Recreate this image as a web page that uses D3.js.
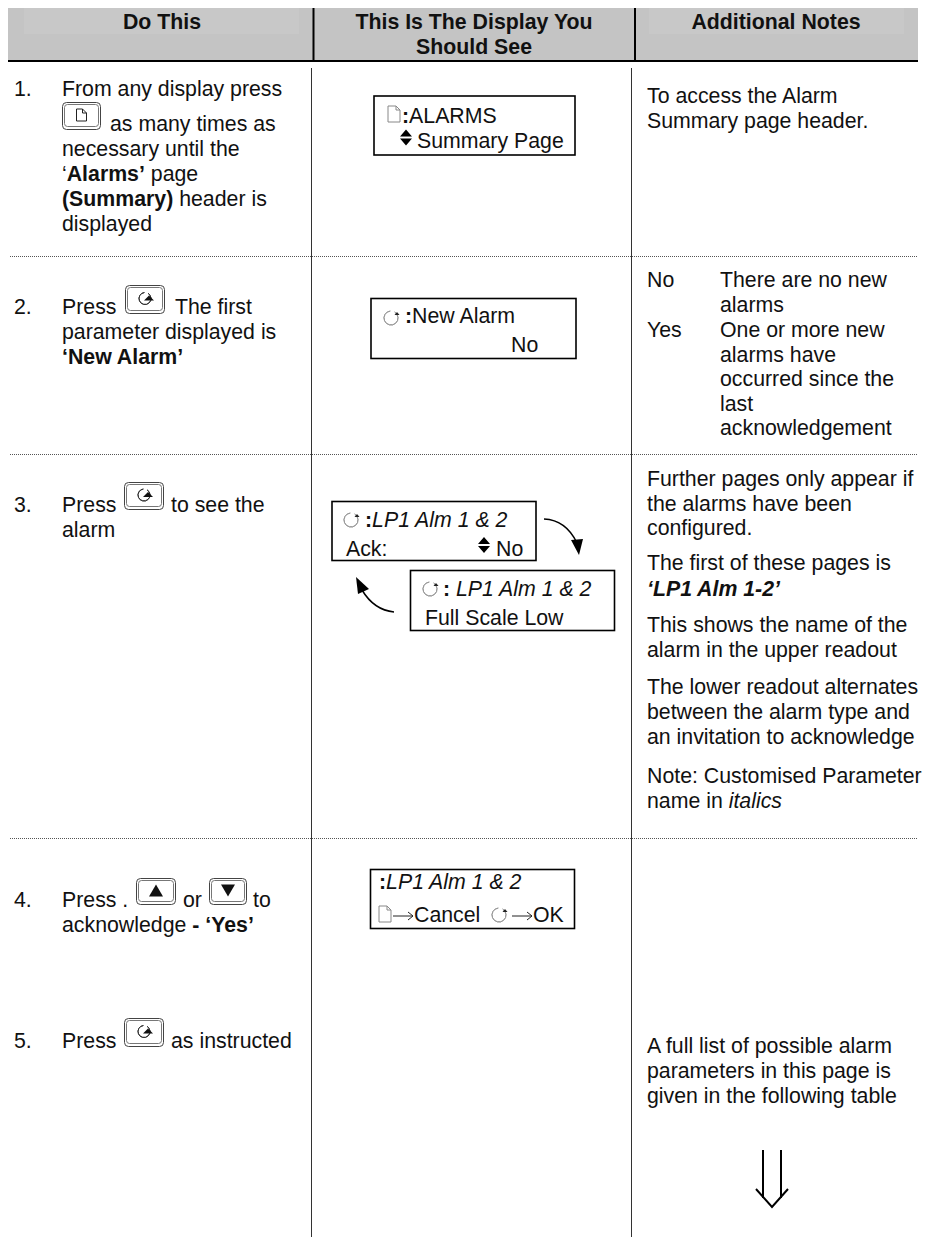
<!DOCTYPE html>
<html><head><meta charset="utf-8">
<script src="https://cdn.jsdelivr.net/npm/d3@7"></script>
<style>html,body{margin:0;padding:0;background:#fff}svg{display:block}
text{font-family:"Liberation Sans",Arial,sans-serif;font-size:21.3px;fill:#111;white-space:pre}</style></head>
<body><svg id="c" width="926" height="1237"></svg>
<script>
// ---- content ----
const headers = [["Do This"], ["This Is The Display You", "Should See"], ["Additional Notes"]];
const stepNumbers = ["1.", "2.", "3.", "4.", "5."];
const step1First = ["From any display press"];
const step1Rest = ["necessary until the", "‘**Alarms’** page", "**(Summary)** header is", "displayed"];
const step1After = "as many times as";
const step2 = ["Press", "parameter displayed is", "**‘New Alarm’**"];
const step2After = "The first";
const step3 = ["Press", "alarm"];
const step3After = "to see the";
const step4 = ["Press .", "acknowledge **- ‘Yes’**"];
const step4Or = "or";
const step4To = "to";
const step5 = ["Press"];
const step5After = "as instructed";
const note1 = ["To access the Alarm", "Summary page header."];
const note2Keys = ["No", "Yes"];
const note2No = ["There are no new", "alarms"];
const note2Yes = ["One or more new", "alarms have", "occurred since the", "last", "acknowledgement"];
const note3a = ["Further pages only appear if", "the alarms have been", "configured."];
const note3b = ["The first of these pages is", "**__‘LP1 Alm 1-2’__**"];
const note3c = ["This shows the name of the", "alarm in the upper readout"];
const note3d = ["The lower readout alternates", "between the alarm type and", "an invitation to acknowledge"];
const note3e = ["Note: Customised Parameter", "name in __italics__"];
const note5 = ["A full list of possible alarm", "parameters in this page is", "given in the following table"];

// ---- layout ----
const svg = d3.select("#c");
const colX = d3.scaleOrdinal(["num","step","note","noteVal"], [14, 62, 647, 720]);
const rules = d3.scaleOrdinal(["a","b"], [311.5, 631.5]);
const leading = 24.8;

function rich(sel, str) {
  let b = false, i = false;
  str.split(/(\*\*|__)/).forEach(p => {
    if (p === "**") { b = !b; return; }
    if (p === "__") { i = !i; return; }
    if (!p) return;
    sel.append("tspan").attr("font-weight", b ? "bold" : null).attr("font-style", i ? "italic" : null).text(p);
  });
}
const label = (x, y, s) => rich(svg.append("text").attr("x", x).attr("y", y), s);
function block(lines, x, y, lh = leading) { lines.forEach((l, k) => label(x, y + k * lh, l)); }

// header band
svg.append("rect").attr("x", 8).attr("y", 8).attr("width", 910).attr("height", 52).attr("fill", "#c4c4c4");
svg.append("rect").attr("x", 24).attr("y", 8).attr("width", 275).attr("height", 26).attr("fill", "#c8c8c8");
svg.append("rect").attr("x", 649).attr("y", 8).attr("width", 255).attr("height", 26).attr("fill", "#c8c8c8");
svg.append("line").attr("x1", 8).attr("x2", 918).attr("y1", 61).attr("y2", 61).attr("stroke", "#000").attr("stroke-width", 2);
[313.5, 635].forEach(x => svg.append("line").attr("x1", x).attr("x2", x).attr("y1", 8).attr("y2", 60).attr("stroke", "#000").attr("stroke-width", 2));
const hx = [162, 474, 776];
headers.forEach((h, i) => h.forEach((t, k) => svg.append("text").attr("x", hx[i]).attr("y", 28.5 + k * 25.5)
  .attr("text-anchor", "middle").attr("font-weight", "bold").text(t)));

// body rules
["a","b"].forEach(k => svg.append("line").attr("x1", rules(k)).attr("x2", rules(k)).attr("y1", 68).attr("y2", 1237).attr("stroke", "#333").attr("stroke-width", 1));
[256, 454, 838].forEach(y => svg.append("line").attr("x1", 10).attr("x2", 918).attr("y1", y + .5).attr("y2", y + .5)
  .attr("stroke", "#555").attr("stroke-width", 1).attr("stroke-dasharray", "1 1"));

// text
const numY = [96, 314, 512, 907, 1048];
stepNumbers.forEach((t, i) => svg.append("text").attr("x", colX("num")).attr("y", numY[i]).text(t));
block(step1First, colX("step"), 96);
label(110, 131, step1After);
block(step1Rest, colX("step"), 155.5, 25);
block(step2, colX("step"), 314, 25);
label(175, 314, step2After);
block(step3, colX("step"), 512, 25);
label(171, 512, step3After);
block(step4, colX("step"), 907, 25);
label(183, 907, step4Or);
label(253, 907, step4To);
block(step5, colX("step"), 1048);
label(171, 1048, step5After);
block(note1, colX("note"), 103);
note2Keys.forEach((t, i) => svg.append("text").attr("x", colX("note")).attr("y", 287 + i * 50).text(t));
block(note2No, colX("noteVal"), 287, 25);
block(note2Yes, colX("noteVal"), 337, 24.6);
block(note3a, colX("note"), 486, 24.6);
block(note3b, colX("note"), 570, 26);
block(note3c, colX("note"), 632);
block(note3d, colX("note"), 694);
block(note3e, colX("note"), 783);
block(note5, colX("note"), 1053, 25);

// icons
function pageIcon(x, y, col = "#888", w = 12, h = 16) {
  svg.append("path").attr("fill", "#fff").attr("stroke", col).attr("stroke-width", 1)
    .attr("d", `M${x} ${y}h${w-4}l4 4v${h-4}h${-w}z M${x+w-4} ${y}v4h4`);
}
const openArc = r => d3.arc().innerRadius(r).outerRadius(r).startAngle(.55).endAngle(2 * Math.PI - .1)();
function scrollIcon(x, y, col = "#999") {
  svg.append("path").attr("transform", `translate(${x},${y})`).attr("d", openArc(7)).attr("fill", "none").attr("stroke", col).attr("stroke-width", 1);
  svg.append("path").attr("d", `M${x+3.5} ${y-3}l2.5 -3l2.5 3z`).attr("fill", "#222");
}
function updown(x, y) {
  svg.append("path").attr("d", `M${x} ${y-1}l6 -7l6 7z M${x} ${y+1}l6 7l6 -7z`).attr("fill", "#000");
}
function button(x, y, w, h, kind) {
  svg.append("rect").attr("x", x + .5).attr("y", y + .5).attr("width", w - 1).attr("height", h - 1).attr("rx", 4).attr("fill", "#fff").attr("stroke", "#444");
  svg.append("rect").attr("x", x + 2.5).attr("y", y + 2.5).attr("width", w - 5).attr("height", h - 6).attr("rx", 3).attr("fill", "#fff").attr("stroke", "#777");
  const cx = x + w / 2, cy = y + h / 2 - 1;
  if (kind === "page") pageIcon(cx - 5, cy - 6, "#222", 10, 12);
  if (kind === "scroll") {
    svg.append("path").attr("transform", `translate(${cx},${cy})`).attr("d", openArc(6)).attr("fill", "none").attr("stroke", "#333");
    svg.append("path").attr("d", `M${cx-1} ${cy+2}l5 -5l5 5z`).attr("fill", "#111");
  }
  if (kind === "up") svg.append("path").attr("d", `M${cx-7} ${cy+6}l7 -12l7 12z`).attr("fill", "#111");
  if (kind === "down") svg.append("path").attr("d", `M${cx-7} ${cy-6}l7 12l7 -12z`).attr("fill", "#111");
}
button(62, 102, 39, 28, "page");
button(125, 285, 40, 29, "scroll");
button(124, 482, 40, 28, "scroll");
button(136, 878, 40, 27, "up");
button(209, 878, 38, 27, "down");
button(124, 1018, 40, 29, "scroll");

// display boxes
function box(x, y, w, h) { svg.append("rect").attr("x", x).attr("y", y).attr("width", w).attr("height", h).attr("fill", "#fff").attr("stroke", "#000").attr("stroke-width", 1.6); }
function arrowGlyph(x, y, w = 20) {
  svg.append("path").attr("d", `M${x} ${y}h${w} M${x+w-5} ${y-4}l5 4l-5 4`).attr("fill", "none").attr("stroke", "#222").attr("stroke-width", 1);
}

box(374, 96, 201, 59);
pageIcon(388, 106);
label(402, 123, "**:**ALARMS");
updown(400, 137.5);
label(417, 148, "Summary Page");

box(371, 298.5, 205, 60);
scrollIcon(391, 318);
label(405, 323, "**:**New Alarm");
label(511, 352, "No");

box(332, 501.5, 204, 59);
scrollIcon(351, 520);
label(365, 527, "**:**__LP1 Alm 1 & 2__");
label(346, 556, "Ack:");
updown(478, 545);
label(496, 556, "No");

box(410.5, 570.5, 204, 60);
scrollIcon(430, 589);
label(443, 596, "**:** __LP1 Alm 1 & 2__");
label(425, 625, "Full Scale Low");

box(370.5, 869.5, 204, 59);
label(379, 889, "**:**__LP1 Alm 1 & 2__");
pageIcon(379, 906);
arrowGlyph(393, 916);
label(414, 922, "Cancel");
scrollIcon(499, 915);
arrowGlyph(512, 916);
label(533, 922, "OK");

// curved arrows
function curve(d, tip) {
  svg.append("path").attr("d", d).attr("fill", "none").attr("stroke", "#000").attr("stroke-width", 1.5);
  svg.append("path").attr("d", tip).attr("fill", "#000");
}
curve("M544 519Q566 520 577 543", "M571 540L583 539L579 555Z");
curve("M394 612Q374 610 362 590", "M356 577L369 589L358 594Z");

// double arrow
svg.append("path").attr("d", "M763 1150V1198M781 1150V1198M756 1189L772 1207L788 1189").attr("fill", "none").attr("stroke", "#000").attr("stroke-width", 2);
</script></body></html>
